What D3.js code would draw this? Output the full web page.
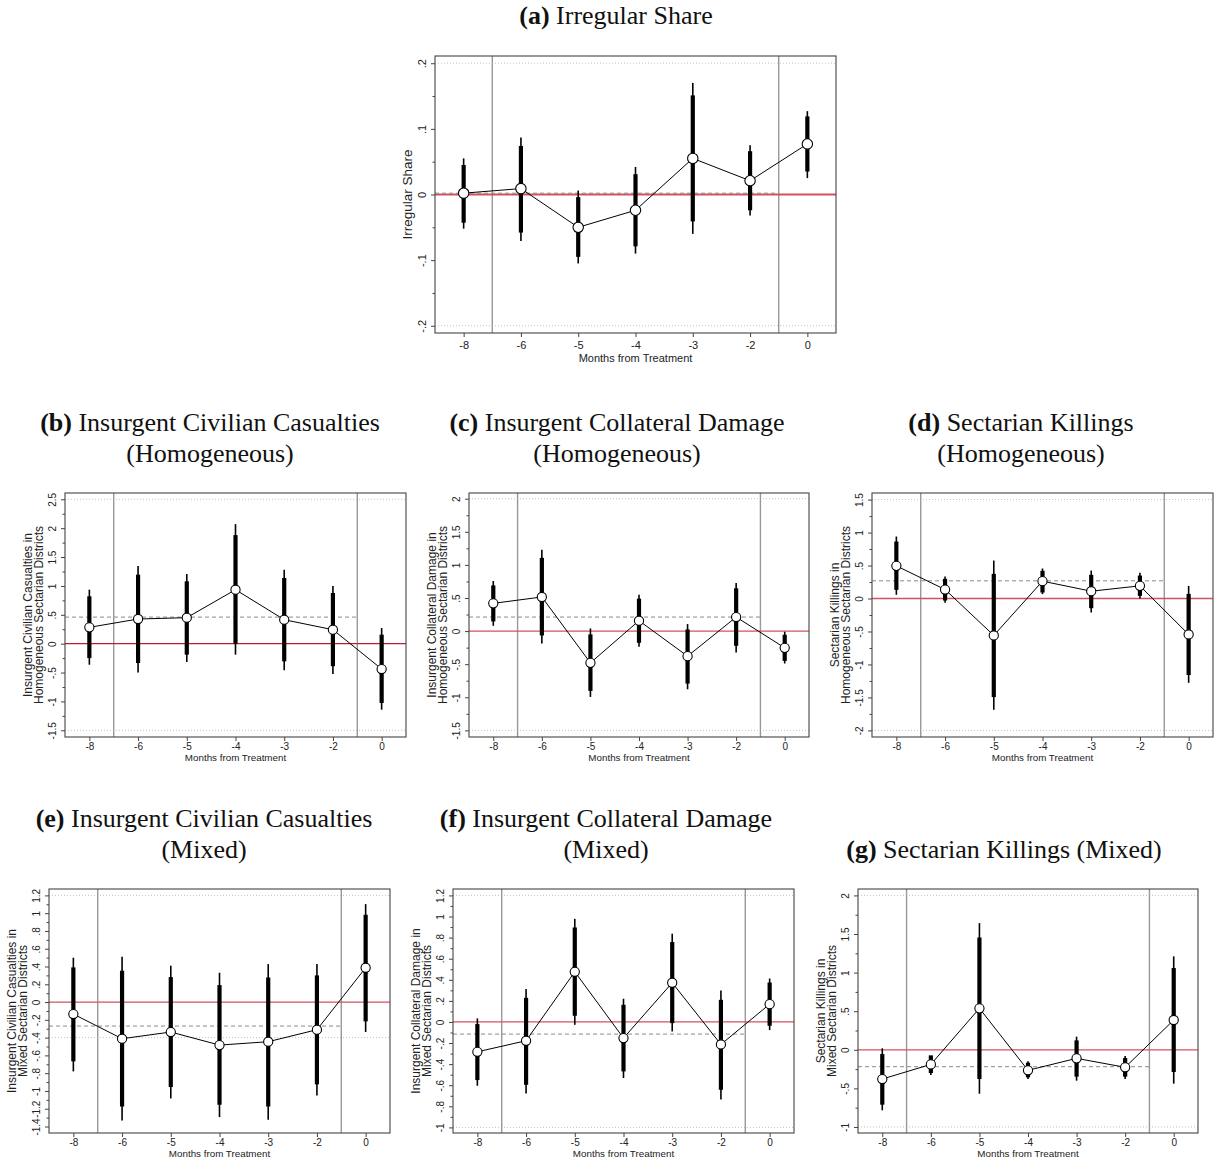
<!DOCTYPE html>
<html>
<head>
<meta charset="utf-8">
<script src="https://cdn.jsdelivr.net/npm/d3@7"></script>
<style>
  body { margin: 0; background: #fff; }
</style>
</head>
<body>
<div id="fig"></div>
<script>
// categories on the x axis
const months = ["-8", "-6", "-5", "-4", "-3", "-2", "0"];

// (a) Irregular share
const irrEst = [0.002, 0.009, -0.050, -0.024, 0.055, 0.021, 0.077];
const irrCi90 = [[-0.043, 0.045], [-0.058, 0.074], [-0.095, -0.004], [-0.079, 0.031], [-0.041, 0.151], [-0.024, 0.066], [0.035, 0.119]];
const irrCi95 = [[-0.052, 0.055], [-0.071, 0.087], [-0.105, 0.006], [-0.090, 0.042], [-0.060, 0.170], [-0.032, 0.075], [0.025, 0.127]];
const irrPre = 0.002;
const irrTicks = [-0.2, -0.1, 0, 0.1, 0.2];

// (b) Insurgent civilian casualties, homogeneous
const civHomEst = [0.283, 0.427, 0.45, 0.935, 0.415, 0.242, -0.439];
const civHomCi90 = [[-0.25, 0.82], [-0.335, 1.195], [-0.19, 1.08], [0.0, 1.88], [-0.306, 1.137], [-0.39, 0.877], [-1.027, 0.156]];
const civHomCi95 = [[-0.364, 0.935], [-0.50, 1.345], [-0.317, 1.206], [-0.19, 2.07], [-0.46, 1.28], [-0.525, 1.0], [-1.143, 0.27]];
const civHomPre = 0.46;
const civHomTicks = [-1.5, -1, -0.5, 0, 0.5, 1, 1.5, 2, 2.5];

// (c) Insurgent collateral damage, homogeneous
const colHomEst = [0.419, 0.515, -0.48, 0.157, -0.379, 0.212, -0.253];
const colHomCi90 = [[0.146, 0.69], [-0.066, 1.106], [-0.904, -0.05], [-0.177, 0.49], [-0.793, 0.025], [-0.222, 0.646], [-0.45, -0.056]];
const colHomCi95 = [[0.08, 0.757], [-0.187, 1.227], [-0.995, 0.04], [-0.237, 0.55], [-0.879, 0.106], [-0.323, 0.727], [-0.49, -0.01]];
const colHomPre = 0.212;
const colHomTicks = [-1.5, -1, -0.5, 0, 0.5, 1, 1.5, 2];

// (d) Sectarian killings, homogeneous
const sktHomEst = [0.495, 0.136, -0.56, 0.263, 0.111, 0.192, -0.545];
const sktHomCi90 = [[0.131, 0.864], [-0.03, 0.298], [-1.495, 0.374], [0.091, 0.42], [-0.146, 0.359], [0.04, 0.348], [-1.16, 0.07]];
const sktHomCi95 = [[0.056, 0.94], [-0.066, 0.333], [-1.687, 0.576], [0.066, 0.455], [-0.212, 0.424], [0.0, 0.389], [-1.278, 0.19]];
const sktHomPre = 0.268;
const sktHomTicks = [-2, -1.5, -1, -0.5, 0, 0.5, 1, 1.5];

// (e) Insurgent civilian casualties, mixed
const civMixEst = [-0.135, -0.412, -0.337, -0.484, -0.446, -0.311, 0.386];
const civMixCi90 = [[-0.667, 0.39], [-1.174, 0.352], [-0.956, 0.281], [-1.155, 0.191], [-1.174, 0.277], [-0.926, 0.30], [-0.217, 0.982]];
const civMixCi95 = [[-0.78, 0.499], [-1.331, 0.51], [-1.084, 0.409], [-1.294, 0.33], [-1.324, 0.427], [-1.05, 0.427], [-0.337, 1.102]];
const civMixPre = -0.27;
const civMixTicks = [-1.4, -1.2, -1, -0.8, -0.6, -0.4, -0.2, 0, 0.2, 0.4, 0.6, 0.8, 1, 1.2];

// (f) Insurgent collateral damage, mixed
const colMixEst = [-0.283, -0.178, 0.476, -0.153, 0.372, -0.213, 0.169];
const colMixCi90 = [[-0.551, -0.02], [-0.596, 0.229], [0.059, 0.896], [-0.469, 0.163], [-0.011, 0.758], [-0.643, 0.21], [-0.036, 0.374]];
const colMixCi95 = [[-0.605, 0.034], [-0.678, 0.312], [-0.027, 0.978], [-0.532, 0.22], [-0.09, 0.837], [-0.735, 0.299], [-0.077, 0.412]];
const colMixPre = -0.115;
const colMixTicks = [-1, -0.8, -0.6, -0.4, -0.2, 0, 0.2, 0.4, 0.6, 0.8, 1, 1.2];

// (g) Sectarian killings, mixed
const sktMixEst = [-0.379, -0.189, 0.537, -0.266, -0.111, -0.227, 0.386];
const sktMixCi90 = [[-0.711, -0.055], [-0.301, -0.072], [-0.379, 1.456], [-0.357, -0.167], [-0.348, 0.122], [-0.348, -0.107], [-0.288, 1.059]];
const sktMixCi95 = [[-0.784, 0.019], [-0.327, -0.097], [-0.569, 1.641], [-0.379, -0.15], [-0.40, 0.17], [-0.379, -0.081], [-0.439, 1.21]];
const sktMixPre = -0.219;
const sktMixTicks = [-1, -0.5, 0, 0.5, 1, 1.5, 2];

const panels = [
  { tag: "(a)", title: ["Irregular Share"], est: irrEst, ci90: irrCi90, ci95: irrCi95, pre: irrPre,
    ticks: irrTicks, minor: 0.05, grid: [-0.2, 0.2], domain: [-0.211, 0.211],
    ylab: ["Irregular Share"], box: [435, 56, 836, 333], tx: 616, ty: 24, big: true },
  { tag: "(b)", title: ["Insurgent Civilian Casualties", "(Homogeneous)"], est: civHomEst, ci90: civHomCi90, ci95: civHomCi95, pre: civHomPre,
    ticks: civHomTicks, minor: 0.25, grid: [-1.5, 2.5], domain: [-1.616, 2.609], zeroColor: "#b8202e",
    ylab: ["Insurgent Civilian Casualties in", "Homogeneous Sectarian Districts"], box: [65, 493, 406, 737], tx: 210, ty: 431 },
  { tag: "(c)", title: ["Insurgent Collateral Damage", "(Homogeneous)"], est: colHomEst, ci90: colHomCi90, ci95: colHomCi95, pre: colHomPre,
    ticks: colHomTicks, minor: 0.25, grid: [-1.5, 2], domain: [-1.60, 2.086],
    ylab: ["Insurgent Collateral Damage in", "Homogeneous Sectarian Districts"], box: [469, 493, 809, 737], tx: 617, ty: 431 },
  { tag: "(d)", title: ["Sectarian Killings", "(Homogeneous)"], est: sktHomEst, ci90: sktHomCi90, ci95: sktHomCi95, pre: sktHomPre,
    ticks: sktHomTicks, minor: 0.25, grid: [-2, 1.5], domain: [-2.10, 1.60],
    ylab: ["Sectarian Killings in", "Homogeneous Sectarian Districts"], box: [872, 493, 1213, 737], tx: 1021, ty: 431 },
  { tag: "(e)", title: ["Insurgent Civilian Casualties", "(Mixed)"], est: civMixEst, ci90: civMixCi90, ci95: civMixCi95, pre: civMixPre,
    ticks: civMixTicks, minor: 0.1, grid: [-0.4, 1.2], domain: [-1.473, 1.272],
    ylab: ["Insurgent Civilian Casualties in", "Mixed Sectarian Districts"], box: [49, 889, 390, 1133], tx: 204, ty: 827 },
  { tag: "(f)", title: ["Insurgent Collateral Damage", "(Mixed)"], est: colMixEst, ci90: colMixCi90, ci95: colMixCi95, pre: colMixPre,
    ticks: colMixTicks, minor: 0.1, grid: [-1, 1.2], domain: [-1.053, 1.261],
    ylab: ["Insurgent Collateral Damage in", "Mixed Sectarian Districts"], box: [453, 889, 794, 1133], tx: 606, ty: 827 },
  { tag: "(g)", title: ["Sectarian Killings (Mixed)"], est: sktMixEst, ci90: sktMixCi90, ci95: sktMixCi95, pre: sktMixPre,
    ticks: sktMixTicks, minor: 0.25, grid: [-1, 2], domain: [-1.078, 2.083],
    ylab: ["Sectarian Killings in", "Mixed Sectarian Districts"], box: [858, 889, 1198, 1133], tx: 1004, ty: 858 }
];

const svg = d3.select("#fig").append("svg")
    .attr("width", 1214)
    .attr("height", 1162)
    .attr("viewBox", [0, 0, 1214, 1162]);

// stata style labels: .5 instead of 0.5
const fmt = v => {
  const r = Math.round(v * 100) / 100;
  if (r === 0) return "0";
  return String(r).replace(/^(-?)0\./, "$1.");
};

function drawPanel(p) {
  const [x0, y0, x1, y1] = p.box;
  const g = svg.append("g");
  const x = d3.scalePoint().domain(months).range([x0, x1]).padding(0.5);
  const y = d3.scaleLinear().domain(p.domain).range([y1, y0]);
  const step = x.step();
  const tickFont = p.big ? 11 : 10;
  const sans = "Liberation Sans, Arial, Helvetica, sans-serif";

  // title, bold tag then plain text
  p.title.forEach((line, i) => {
    const t = g.append("text")
        .attr("x", p.tx)
        .attr("y", p.ty + i * 31)
        .attr("text-anchor", "middle")
        .attr("font-family", "Liberation Serif, Times New Roman, serif")
        .attr("font-size", 26)
        .attr("fill", "#111");
    if (i === 0) {
      t.append("tspan").attr("font-weight", "bold").text(p.tag);
      t.append("tspan").text(" " + line);
    } else {
      t.text(line);
    }
  });

  // dotted lines at the outer labels
  g.selectAll(".grid").data(p.grid).join("line")
      .attr("x1", x0).attr("x2", x1)
      .attr("y1", d => y(d)).attr("y2", d => y(d))
      .attr("stroke", "#c4c4c4")
      .attr("stroke-dasharray", "1,2");

  // treatment window lines
  const xa = x(months[0]) + step / 2,
        xb = x(months[5]) + step / 2;
  g.selectAll(".vline").data([xa, xb]).join("line")
      .attr("x1", d => d).attr("x2", d => d)
      .attr("y1", y0).attr("y2", y1)
      .attr("stroke", "#999")
      .attr("stroke-width", 1.4);

  // zero line
  g.append("line")
      .attr("x1", x0).attr("x2", x1)
      .attr("y1", y(0)).attr("y2", y(0))
      .attr("stroke", p.zeroColor || "#d4505e")
      .attr("stroke-width", p.big ? 1.8 : 1.3);

  // pre treatment mean
  g.append("line")
      .attr("x1", x0).attr("x2", xb)
      .attr("y1", y(p.pre)).attr("y2", y(p.pre))
      .attr("stroke", "#8a8a8a")
      .attr("stroke-dasharray", "4,3");

  // confidence intervals
  g.selectAll(".ci95").data(p.ci95).join("line")
      .attr("x1", (d, i) => x(months[i])).attr("x2", (d, i) => x(months[i]))
      .attr("y1", d => y(d[0])).attr("y2", d => y(d[1]))
      .attr("stroke", "#000")
      .attr("stroke-width", 1.6);
  g.selectAll(".ci90").data(p.ci90).join("line")
      .attr("x1", (d, i) => x(months[i])).attr("x2", (d, i) => x(months[i]))
      .attr("y1", d => y(d[0])).attr("y2", d => y(d[1]))
      .attr("stroke", "#000")
      .attr("stroke-width", 4.2);

  const line = d3.line()
      .x((d, i) => x(months[i]))
      .y(d => y(d));
  g.append("path")
      .datum(p.est)
      .attr("d", line)
      .attr("fill", "none")
      .attr("stroke", "#000")
      .attr("stroke-width", 1);

  g.selectAll(".pt").data(p.est).join("circle")
      .attr("cx", (d, i) => x(months[i]))
      .attr("cy", d => y(d))
      .attr("r", p.big ? 5.2 : 4.6)
      .attr("fill", "#fff")
      .attr("stroke", "#000")
      .attr("stroke-width", 1.1);

  // frame
  g.append("rect")
      .attr("x", x0).attr("y", y0)
      .attr("width", x1 - x0).attr("height", y1 - y0)
      .attr("fill", "none")
      .attr("stroke", "#444")
      .attr("stroke-width", 1.1);

  // y axis
  const yAxis = g.append("g")
      .attr("transform", `translate(${x0},0)`)
      .call(d3.axisLeft(y).tickValues(p.ticks).tickFormat(fmt).tickSize(4));
  yAxis.select(".domain").remove();
  yAxis.selectAll("line").attr("stroke", "#444");
  yAxis.selectAll("text")
      .attr("transform", "rotate(-90)")
      .attr("x", 0)
      .attr("y", -13)
      .attr("dy", "0.35em")
      .attr("text-anchor", "middle")
      .attr("font-family", sans)
      .attr("font-size", tickFont)
      .attr("fill", "#222");

  const lo = p.ticks[0], hi = p.ticks[p.ticks.length - 1];
  const minorVals = d3.range(lo, hi + 1e-9, p.minor)
      .filter(v => !p.ticks.some(t => Math.abs(t - v) < 1e-6));
  const yMinor = g.append("g")
      .attr("transform", `translate(${x0},0)`)
      .call(d3.axisLeft(y).tickValues(minorVals).tickFormat("").tickSize(2.5));
  yMinor.select(".domain").remove();
  yMinor.selectAll("line").attr("stroke", "#444");

  // x axis
  const xAxis = g.append("g")
      .attr("transform", `translate(0,${y1})`)
      .call(d3.axisBottom(x).tickSize(4).tickPadding(p.big ? 4 : 2));
  xAxis.select(".domain").remove();
  xAxis.selectAll("line").attr("stroke", "#444");
  xAxis.selectAll("text")
      .attr("font-family", sans)
      .attr("font-size", tickFont)
      .attr("fill", "#222");

  g.append("text")
      .attr("x", (x0 + x1) / 2)
      .attr("y", y1 + (p.big ? 29 : 24))
      .attr("text-anchor", "middle")
      .attr("font-family", sans)
      .attr("font-size", p.big ? 11 : 9.8)
      .attr("fill", "#222")
      .text("Months from Treatment");

  // y title, one or two lines
  const ym = (y0 + y1) / 2;
  const offs = p.ylab.length === 1 ? [-28] : [-37, -26];
  p.ylab.forEach((s, i) => {
    g.append("text")
        .attr("transform", `translate(${x0 + offs[i]},${ym}) rotate(-90)`)
        .attr("dy", "0.35em")
        .attr("text-anchor", "middle")
        .attr("font-family", sans)
        .attr("font-size", p.big ? 13.5 : 12)
        .attr("fill", "#222")
        .text(s);
  });
}

panels.forEach(drawPanel);
</script>
</body>
</html>
